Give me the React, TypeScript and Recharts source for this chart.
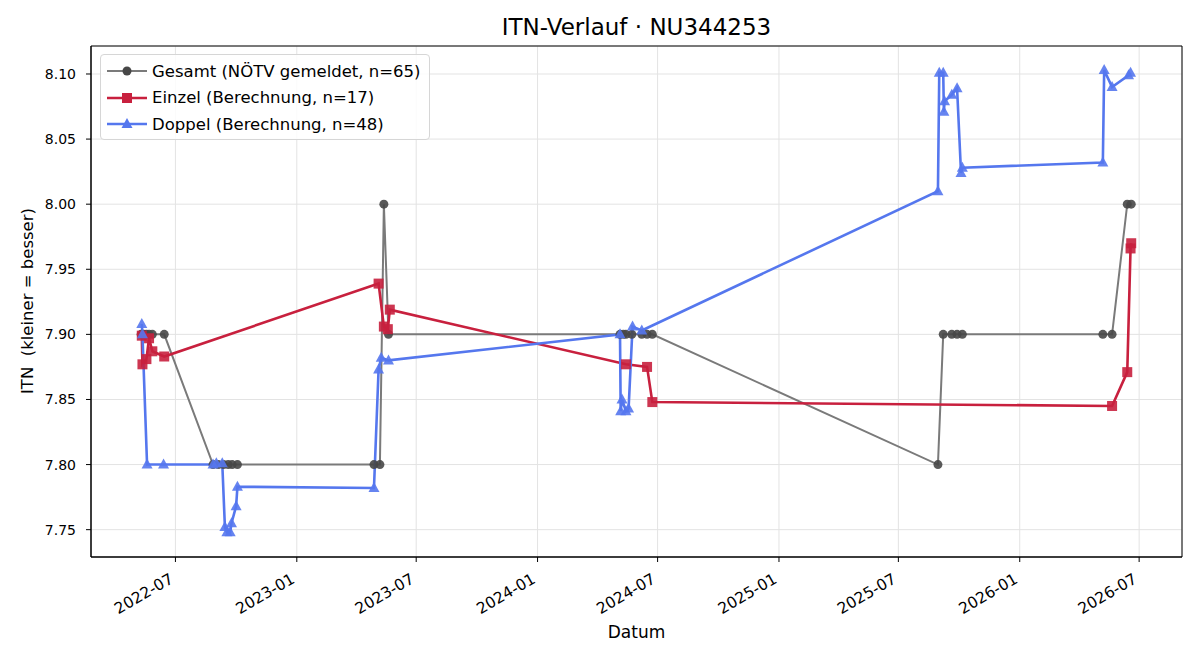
import React from "react";
import {
  LineChart,
  Line,
  XAxis,
  YAxis,
  CartesianGrid,
  ReferenceArea,
} from "recharts";

const GRAY_LINE = "#7a7a7a";
const GRAY_DOT = "#474747";
const RED = "#c8203e";
const BLUE = "#5577ee";
const FONT = "'DejaVu Sans', sans-serif";

// Gesamt (NÖTV gemeldet)
const gesamtDates = [
  "2022-05-10", "2022-05-14", "2022-05-18", "2022-05-22", "2022-05-27", "2022-06-14",
  "2022-08-27", "2022-09-04", "2022-09-12", "2022-09-19", "2022-09-25", "2022-10-03",
  "2023-04-28", "2023-05-07", "2023-05-13", "2023-05-20",
  "2024-05-05", "2024-05-10", "2024-05-14", "2024-05-23", "2024-06-07", "2024-06-15", "2024-06-23",
  "2025-08-30", "2025-09-07", "2025-09-20", "2025-09-28", "2025-10-06",
  "2026-05-07", "2026-05-21", "2026-06-13", "2026-06-19",
];
const gesamtValues = [
  7.9, 7.9, 7.9, 7.9, 7.9, 7.9,
  7.8, 7.8, 7.8, 7.8, 7.8, 7.8,
  7.8, 7.8, 8.0, 7.9,
  7.9, 7.9, 7.9, 7.9, 7.9, 7.9, 7.9,
  7.8, 7.9, 7.9, 7.9, 7.9,
  7.9, 7.9, 8.0, 8.0,
];

// Einzel (Berechnung)
const einzelDates = [
  "2022-05-11", "2022-05-12", "2022-05-18", "2022-05-22", "2022-05-27", "2022-06-14",
  "2023-05-05", "2023-05-13", "2023-05-19", "2023-05-22",
  "2024-05-14", "2024-06-15", "2024-06-23",
  "2026-05-21", "2026-06-13", "2026-06-18", "2026-06-19",
];
const einzelValues = [
  7.899, 7.877, 7.881, 7.897, 7.887, 7.883,
  7.939, 7.906, 7.904, 7.919,
  7.877, 7.875, 7.848,
  7.845, 7.871, 7.966, 7.97,
];

// Doppel (Berechnung)
const doppelDates = [
  "2022-05-11", "2022-05-12", "2022-05-19", "2022-06-13", "2022-08-27", "2022-09-01",
  "2022-09-10", "2022-09-14", "2022-09-17", "2022-09-22", "2022-09-24", "2022-10-01", "2022-10-03",
  "2023-04-28", "2023-05-05", "2023-05-09", "2023-05-20",
  "2024-05-05", "2024-05-06", "2024-05-08", "2024-05-14", "2024-05-18", "2024-05-24", "2024-06-07",
  "2025-08-30", "2025-09-01", "2025-09-07", "2025-09-08", "2025-09-09", "2025-09-20", "2025-09-28",
  "2025-10-04", "2025-10-06",
  "2026-05-07", "2026-05-09", "2026-05-21", "2026-06-15", "2026-06-18",
];
const doppelValues = [
  7.908, 7.9, 7.8, 7.8, 7.8, 7.801,
  7.801, 7.752, 7.748, 7.748, 7.755, 7.768, 7.783,
  7.782, 7.873, 7.882, 7.88,
  7.9, 7.841, 7.85, 7.841, 7.843, 7.906, 7.903,
  8.01, 8.101, 8.101, 8.071, 8.079, 8.084, 8.089,
  8.024, 8.028,
  8.032, 8.103, 8.09, 8.099, 8.101,
];

const xTickLabels = [
  "2022-07", "2023-01", "2023-07", "2024-01", "2024-07",
  "2025-01", "2025-07", "2026-01", "2026-07",
];
const yTicks = [7.75, 7.8, 7.85, 7.9, 7.95, 8.0, 8.05, 8.1];

const toT = (d: string) => Date.parse(d + "T00:00:00Z");
const build = (dates: string[], values: number[]) =>
  dates.map((d, i) => ({ t: toT(d), v: values[i] }));

const gesamt = build(gesamtDates, gesamtValues);
const einzel = build(einzelDates, einzelValues);
const doppel = build(doppelDates, doppelValues);
const xTicks = xTickLabels.map((m) => toT(m + "-01"));

const X_MIN = toT("2022-02-23");
const X_MAX = toT("2026-09-04");
const Y_MIN = 7.729;
const Y_MAX = 8.1215;

const circleDot = (p: any) => (
  <circle key={p.index} cx={p.cx} cy={p.cy} r={4.5} fill={GRAY_DOT} fillOpacity={0.9} />
);
const squareDot = (p: any) => (
  <rect key={p.index} x={p.cx - 5} y={p.cy - 5} width={10} height={10} fill={RED} fillOpacity={0.9} />
);
const triangleDot = (p: any) => (
  <polygon
    key={p.index}
    points={`${p.cx},${p.cy - 6} ${p.cx - 5.5},${p.cy + 4} ${p.cx + 5.5},${p.cy + 4}`}
    fill={BLUE}
    fillOpacity={0.9}
  />
);

const DateTick = ({ x, y, payload }: any) => {
  const label = new Date(payload.value).toISOString().slice(0, 7);
  return (
    <g transform={`translate(${x - 1}, ${y + 18})`}>
      <text
        x={0}
        y={0}
        transform="rotate(-30)"
        textAnchor="end"
        fill="#000"
        fontSize={15.5}
        fontFamily={FONT}
      >
        {label}
      </text>
    </g>
  );
};

const legendItems = [
  { label: "Gesamt (NÖTV gemeldet, n=65)", color: GRAY_LINE, mark: "circle", width: 2 },
  { label: "Einzel (Berechnung, n=17)", color: RED, mark: "square", width: 2.5 },
  { label: "Doppel (Berechnung, n=48)", color: BLUE, mark: "triangle", width: 2.5 },
];

function LegendBox() {
  return (
    <div
      style={{
        position: "absolute",
        left: 100,
        top: 54,
        width: 330,
        height: 86,
        border: "1px solid #d6d6d6",
        borderRadius: 4,
        background: "rgba(255,255,255,0.85)",
        fontFamily: FONT,
        fontSize: 16.5,
        boxSizing: "border-box",
      }}
    >
      {legendItems.map((it, i) => (
        <div
          key={it.label}
          style={{ position: "absolute", left: 5, top: 5 + i * 26.5, height: 22, display: "flex", alignItems: "center" }}
        >
          <svg width={42} height={22}>
            <line x1={1} y1={11} x2={41} y2={11} stroke={it.color} strokeWidth={it.width} />
            {it.mark === "circle" && <circle cx={21} cy={11} r={4.5} fill={GRAY_DOT} />}
            {it.mark === "square" && <rect x={16} y={6} width={10} height={10} fill={RED} />}
            {it.mark === "triangle" && <polygon points="21,5 15.5,15 26.5,15" fill={BLUE} />}
          </svg>
          <span style={{ marginLeft: 4, whiteSpace: "nowrap" }}>{it.label}</span>
        </div>
      ))}
    </div>
  );
}

export default function App() {
  return (
    <div style={{ position: "absolute", left: 0, top: 0, width: 1200, height: 660, background: "#fff" }}>
      <div
        style={{
          position: "absolute",
          left: 91,
          width: 1091,
          top: 14,
          textAlign: "center",
          fontFamily: FONT,
          fontSize: 23,
        }}
      >
        ITN-Verlauf · NU344253
      </div>
      <LineChart
        width={1200}
        height={660}
        margin={{ top: 46, right: 18, bottom: 0, left: 0 }}
      >
        <CartesianGrid stroke="#e3e3e3" strokeWidth={1} />
        <XAxis
          dataKey="t"
          type="number"
          domain={[X_MIN, X_MAX]}
          ticks={xTicks}
          allowDataOverflow
          height={103}
          tick={<DateTick />}
          tickSize={5}
          axisLine={{ stroke: "#000" }}
          tickLine={{ stroke: "#000" }}
        />
        <YAxis
          type="number"
          domain={[Y_MIN, Y_MAX]}
          ticks={yTicks}
          allowDataOverflow
          width={91}
          tickSize={5}
          tickMargin={10}
          tickFormatter={(v: number) => v.toFixed(2)}
          tick={{ fill: "#000", fontSize: 14, fontFamily: FONT }}
          axisLine={{ stroke: "#000" }}
          tickLine={{ stroke: "#000" }}
        />
        <ReferenceArea
          x1={X_MIN}
          x2={X_MAX}
          y1={Y_MIN}
          y2={Y_MAX}
          fill="none"
          stroke="#000"
          strokeWidth={1}
        />
        <Line
          data={gesamt}
          dataKey="v"
          stroke={GRAY_LINE}
          strokeWidth={2}
          dot={circleDot}
          activeDot={false}
          isAnimationActive={false}
        />
        <Line
          data={einzel}
          dataKey="v"
          stroke={RED}
          strokeWidth={2.6}
          dot={squareDot}
          activeDot={false}
          isAnimationActive={false}
        />
        <Line
          data={doppel}
          dataKey="v"
          stroke={BLUE}
          strokeWidth={2.6}
          dot={triangleDot}
          activeDot={false}
          isAnimationActive={false}
        />
      </LineChart>
      <div
        style={{
          position: "absolute",
          left: 91,
          width: 1091,
          top: 622,
          textAlign: "center",
          fontFamily: FONT,
          fontSize: 17,
        }}
      >
        Datum
      </div>
      <div
        style={{
          position: "absolute",
          left: 27,
          top: 301,
          transform: "translate(-50%, -50%) rotate(-90deg)",
          fontFamily: FONT,
          fontSize: 16.5,
          whiteSpace: "pre",
        }}
      >
        ITN  (kleiner = besser)
      </div>
      <LegendBox />
    </div>
  );
}
